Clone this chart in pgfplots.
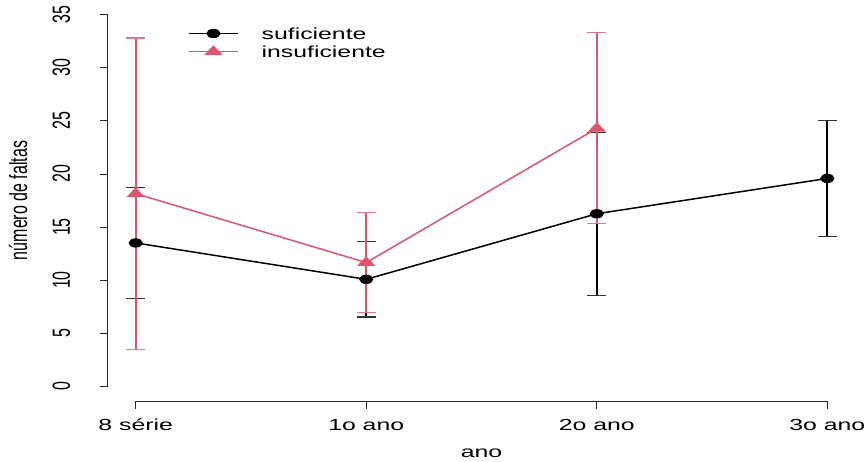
\documentclass[border=0pt]{standalone}
\usepackage{pgfplots}
\pgfplotsset{compat=1.18}
\usepackage{fontspec}
\setmainfont{Liberation Sans}
\usepackage{graphicx}
\definecolor{rpink}{HTML}{DF536B}
\newcommand\hx[1]{\scalebox{1.55}[1]{#1}}
\newcommand\vx[1]{\scalebox{1}[1.55]{#1}}
\begin{document}
\fontsize{16bp}{19bp}\selectfont
\begin{tikzpicture}
\begin{axis}[
  scale only axis,
  width=747bp, height=401bp,
  xmin=-0.12, xmax=3.12,
  ymin=-1.4, ymax=36.4,
  clip=false,
  axis line style={draw=none},
  tick pos=left,
  tick align=outside,
  major tick length=8bp,
  tick style={black!85, line width=0.9bp},
  xtick={0,1,2,3},
  xticklabels={\hx{8 série},\hx{1o ano},\hx{2o ano},\hx{3o ano}},
  ytick={0,5,10,15,20,25,30,35},
  yticklabels={\vx{0},\vx{5},\vx{10},\vx{15},\vx{20},\vx{25},\vx{30},\vx{35}},
  xticklabel style={anchor=base, yshift=-21bp},
  yticklabel style={xshift=-30bp, rotate=90, anchor=base},
  every axis x label/.style={at={(axis description cs:0.5,-0.1420)}, anchor=base},
  every axis y label/.style={at={(axis description cs:-0.1084,0.5)}, rotate=90, anchor=base},
  xlabel={\hx{ano}},
  ylabel={\vx{número de faltas}},
  legend style={at={(axis description cs:0.1071,0.9327)}, anchor=north west,
    draw=none, fill=none, inner sep=0pt, row sep=0pt, column sep=23bp,
    nodes={inner sep=0pt, text height=12bp, text depth=6bp, anchor=base west}},
  legend cell align=left,
  legend image code/.code={\draw[#1, mark repeat=2, mark phase=2] plot coordinates {(0bp,5.7bp) (24.5bp,5.7bp) (49bp,5.7bp)};},
  error bars/error bar style={line width=1.8bp},
]
\addplot[black, line width=1.5bp, mark=*, mark size=3.9bp, mark options={xscale=1.6, solid},
  error bars/.cd, y dir=both, y explicit,
  error mark options={black!80, line width=1.1bp, mark size=9.5bp, rotate=90}]
  coordinates {
  (0,13.5) +- (0,5.2)
  (1,10.07) +- (0,3.55)
  (2,16.25) +- (0,7.7)
  (3,19.58) +- (0,5.44)
  };
\addlegendentry{\hx{suficiente}}
\addplot[rpink, line width=1.5bp, mark=triangle*, mark size=5.1bp, mark options={xscale=1.65, solid},
  error bars/.cd, y dir=both, y explicit,
  error mark options={rpink!80, line width=1.1bp, mark size=9.5bp, rotate=90}]
  coordinates {
  (0,18.15) +- (0,14.67)
  (1,11.65) +- (0,4.7)
  (2,24.3) +- (0,9.0)
  };
\addlegendentry{\hx{insuficiente}}
\draw[black!85, line width=1bp] (axis cs:0,-1.4) -- (axis cs:3,-1.4);
\draw[black!85, line width=1bp] (axis cs:-0.12,0) -- (axis cs:-0.12,35);
\end{axis}
\pgfresetboundingbox
\path[use as bounding box] ([shift={(-108bp,-61bp)}]current axis.south west) rectangle ([shift={(13bp,0bp)}]current axis.north east);
\end{tikzpicture}
\end{document}
